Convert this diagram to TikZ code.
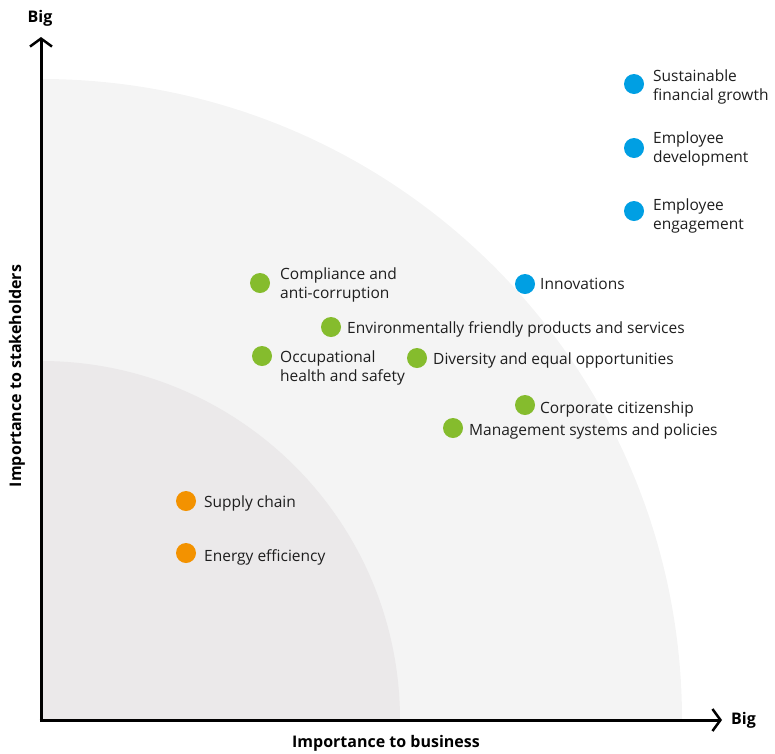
\documentclass[tikz,border=0pt]{standalone}
\usepackage{fontspec}
\setmainfont{Open Sans}
\usetikzlibrary{arrows.meta}
\definecolor{outerg}{HTML}{F4F4F4}
\definecolor{innerg}{HTML}{EBE9EA}
\definecolor{dblue}{HTML}{009FE3}
\definecolor{dgreen}{HTML}{85BC2D}
\definecolor{dorange}{HTML}{F39200}
\definecolor{txt}{HTML}{1E1E1E}
\tikzset{
  dot/.style={circle,fill=#1,minimum size=20pt,inner sep=0pt},
  lbl/.style={anchor=west,inner sep=0pt,yshift=-2.5pt,text=txt,font=\fontsize{15.5}{19}\selectfont,align=left},
  axis/.style={line width=3pt,-{Straight Barb[length=8pt,width=22pt,line width=2.5pt]}},
  axlbl/.style={font=\fontsize{16}{18}\selectfont\bfseries,text=black,inner sep=0pt}
}
\begin{document}
\begin{tikzpicture}[x=1pt,y=-1pt]
\useasboundingbox (0,0) rectangle (775,753);
\fill[outerg] (41,720) -- (41,79) arc[start angle=-90,end angle=0,radius=641] -- cycle;
\fill[innerg] (41,720) -- (41,361) arc[start angle=-90,end angle=0,radius=359] -- cycle;
\coordinate (o) at (41,720);
\coordinate (ytop) at (41,37);
\coordinate (xend) at (722,720);
\draw[axis] ([yshift=-1.5pt]o) -- (ytop);
\draw[axis] ([xshift=-1.5pt]o) -- (xend);
\node[axlbl] (bigy) at (40,18) {Big};
\node[axlbl,anchor=west] (bigx) at (731,720) {Big};
\node[axlbl] (xl) at (386,743) {Importance to business};
\node[axlbl,rotate=90] (yl) at (17,376) {Importance to stakeholders};
% blue
\node[dot=dblue] (d1) at (634,84) {};
\node[lbl] (t1) at (653,84.5) {Sustainable\\financial growth};
\node[dot=dblue] (d2) at (634,148) {};
\node[lbl] (t2) at (653,146.5) {Employee\\development};
\node[dot=dblue] (d3) at (634,211) {};
\node[lbl] (t3) at (653,213.5) {Employee\\engagement};
\node[dot=dblue] (d4) at (525,284) {};
\node[lbl] (t4) at (540,281.5) {Innovations};
% green
\node[dot=dgreen] (g1) at (260,283) {};
\node[lbl] (u1) at (280,282.5) {Compliance and\\anti-corruption};
\node[dot=dgreen] (g2) at (331,327) {};
\node[lbl] (u2) at (347,327) {Environmentally friendly products and services};
\node[dot=dgreen] (g3) at (262,356) {};
\node[lbl] (u3) at (280,365.5) {Occupational\\health and safety};
\node[dot=dgreen] (g4) at (417,358) {};
\node[lbl] (u4) at (433,358) {Diversity and equal opportunities};
\node[dot=dgreen] (g5) at (525,405) {};
\node[lbl] (u5) at (540,407) {Corporate citizenship};
\node[dot=dgreen] (g6) at (453,428) {};
\node[lbl] (u6) at (469,429) {Management systems and policies};
% orange
\node[dot=dorange] (o1) at (186,501) {};
\node[lbl] (v1) at (204,501) {Supply chain};
\node[dot=dorange] (o2) at (186,553) {};
\node[lbl] (v2) at (204,555) {Energy efficiency};
\end{tikzpicture}
\end{document}
